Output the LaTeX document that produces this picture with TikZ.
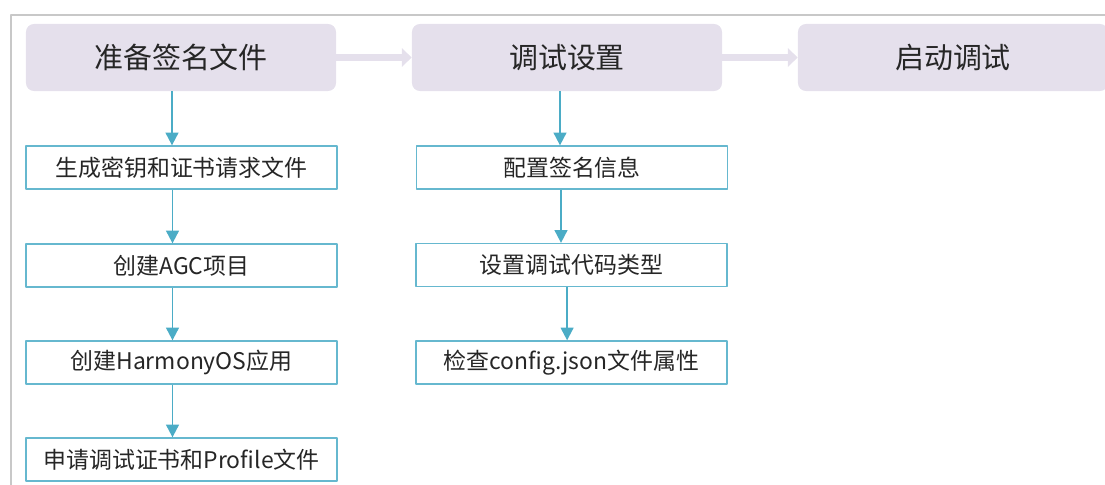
\documentclass[tikz,border=0pt]{standalone}
\usepackage{fontspec}
\setmainfont{Noto Sans CJK SC}
\usetikzlibrary{arrows.meta}
\definecolor{lavender}{HTML}{E5E0EC}
\definecolor{flowteal}{HTML}{4BACC6}
\definecolor{framegray}{HTML}{C8C8C8}
\tikzset{
	headbox/.style={fill=lavender, rounded corners=0.2cm, minimum width=7.75cm, minimum height=1.675cm, inner sep=0pt, font=\fontsize{20.6pt}{24pt}\selectfont, text=black!85},
	subbox/.style={draw=flowteal!85, line width=0.9pt, fill=white, minimum width=7.775cm, minimum height=1.075cm, inner sep=0pt, font=\fontsize{16.3pt}{19pt}\selectfont, text=black!85},
	flow/.style={draw=flowteal, line width=1.4pt, -{Triangle[length=9pt,width=9pt,fill=flowteal]}},
	bigflow/.style={draw=lavender, line width=5.5pt, -{Triangle[length=7pt,width=13pt,fill=lavender]}}
}
\begin{document}
\begin{tikzpicture}[x=0.025cm, y=-0.025cm, line join=round]
	\useasboundingbox (0,0) rectangle (1105,485);
	\draw[framegray, line width=0.8pt] (11,485)--(11,15)--(1105,15);
	% header row
	\node[headbox] (prep) at (181,57.5) {准备签名文件};
	\node[headbox] (dbgset) at (567,57.5) {调试设置};
	\node[headbox] (start) at (953,57.5) {启动调试};
	\draw[bigflow] (prep.east)--(dbgset.west);
	\draw[bigflow] (dbgset.east)--(start.west);
	% left column
	\node[subbox] (genkey) at (181.5,167.5) {生成密钥和证书请求文件};
	\node[subbox] (agc) at (181.5,265.5) {创建AGC项目};
	\node[subbox] (app) at (181.5,362.5) {创建HarmonyOS应用};
	\node[subbox] (cert) at (181.5,459.5) {申请调试证书和Profile文件};
	\draw[flow] ([xshift=-0.225cm]prep.south)--([xshift=-0.225cm]prep.south|-genkey.north);
	\draw[flow] ([xshift=-0.225cm]genkey.south)--([xshift=-0.225cm]genkey.south|-agc.north);
	\draw[flow] ([xshift=-0.225cm]agc.south)--([xshift=-0.225cm]agc.south|-app.north);
	\draw[flow] ([xshift=-0.225cm]app.south)--([xshift=-0.225cm]app.south|-cert.north);
	% middle column
	\node[subbox] (sign) at (572,167.5) {配置签名信息};
	\node[subbox] (codetype) at (571.5,265) {设置调试代码类型};
	\node[subbox] (config) at (571.5,362.5) {检查config.json文件属性};
	\draw[flow] ([xshift=-0.175cm]dbgset.south)--([xshift=-0.175cm]dbgset.south|-sign.north);
	\draw[flow] ([xshift=-0.275cm]sign.south)--([xshift=-0.275cm]sign.south|-codetype.north);
	\draw[flow] ([xshift=-0.11cm]codetype.south)--([xshift=-0.11cm]codetype.south|-config.north);
\end{tikzpicture}
\end{document}
